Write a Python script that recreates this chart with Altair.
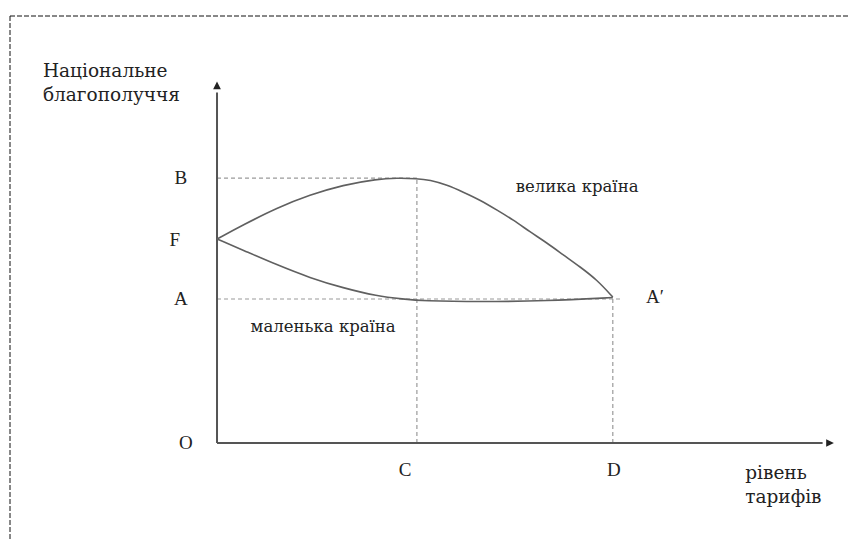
import altair as alt
import pandas as pd

# ---- data (abstract units) ----
big_x = [0, 0.52, 1.21, 1.875, 2.54, 3.23, 3.63, 4.03, 4.29, 4.64, 4.96, 5.31,
         5.65, 5.97, 6.31, 6.65, 6.98, 7.32, 7.66, 7.98]
big_y = [4.25, 4.54, 4.90, 5.17, 5.375, 5.50, 5.52, 5.51, 5.48, 5.375, 5.23, 5.06,
         4.85, 4.65, 4.40, 4.17, 3.92, 3.67, 3.40, 3.04]
small_x = [0, 0.52, 1.21, 1.875, 2.54, 3.23, 3.75, 4.15, 5.31, 6.65, 7.98]
small_y = [4.25, 4.02, 3.71, 3.44, 3.23, 3.06, 3.0, 2.96, 2.94, 2.96, 3.03]

B_LEVEL, F_LEVEL, A_LEVEL = 5.52, 4.25, 3.0
C_POS, D_POS = 4.03, 7.98
Y_AXIS_TOP, X_AXIS_END = 7.45, 12.36

letters = ["B", "F", "A", "O", "C", "D", "A\u2032"]
letter_x = [-0.73, -0.85, -0.73, -0.63, 3.79, 8.0, 8.83]
letter_y = [5.52, 4.23, 3.0, 0.0, -0.56, -0.56, 3.04]

curve_labels = ["велика країна", "маленька країна"]
curve_label_x = [7.26, 2.14]
curve_label_y = [5.33, 2.42]

title_lines = ["Національне", "благополуччя", "рівень", "тарифів"]
title_x = [-3.51, -3.51, 10.65, 10.65]
title_y = [7.76, 7.25, -0.63, -1.13]

X_DOMAIN = [-4.214, 12.722]
Y_DOMAIN = [-2.0, 9.0625]
FONT = "Liberation Serif"
CYR_FONT = "DejaVu Serif"

xs = alt.Scale(domain=X_DOMAIN, nice=False, zero=False)
ys = alt.Scale(domain=Y_DOMAIN, nice=False, zero=False)
X = lambda f: alt.X(f, type="quantitative", scale=xs, axis=None)
Y = lambda f: alt.Y(f, type="quantitative", scale=ys, axis=None)

curves = pd.DataFrame(
    {"x": big_x + small_x, "y": big_y + small_y,
     "s": ["big"] * len(big_x) + ["small"] * len(small_x),
     "o": list(range(len(big_x))) + list(range(len(small_x)))}
)
curve_layer = alt.Chart(curves).mark_line(
    interpolate="basis", color="#606060", strokeWidth=1.6
).encode(x=X("x"), y=Y("y"), detail="s:N", order="o:Q")

guides = pd.DataFrame({
    "x": [0, C_POS, 0, D_POS],
    "x2": [C_POS, C_POS, D_POS + 0.15, D_POS],
    "y": [B_LEVEL, 0, A_LEVEL, 0],
    "y2": [B_LEVEL, B_LEVEL, A_LEVEL, A_LEVEL],
})
guide_layer = alt.Chart(guides).mark_rule(
    color="#9a9a9a", strokeWidth=1.2, strokeDash=[4, 3]
).encode(x=X("x"), x2="x2", y=Y("y"), y2="y2")

axes = pd.DataFrame({"x": [0, 0], "x2": [0, X_AXIS_END - 0.15],
                     "y": [0, 0], "y2": [Y_AXIS_TOP - 0.15, 0]})
axis_layer = alt.Chart(axes).mark_rule(color="#555555", strokeWidth=2).encode(
    x=X("x"), x2="x2", y=Y("y"), y2="y2")

arrow_up = alt.Chart(pd.DataFrame({"x": [0], "y": [Y_AXIS_TOP]})).mark_point(
    shape="M-1,1L0,-1L1,1Z", filled=True, color="#222222", size=60, opacity=1
).encode(x=X("x"), y=Y("y"))
arrow_right = alt.Chart(pd.DataFrame({"x": [X_AXIS_END], "y": [0]})).mark_point(
    shape="M-1,-1L1,0L-1,1Z", filled=True, color="#222222", size=60, opacity=1
).encode(x=X("x"), y=Y("y"))

letter_layer = alt.Chart(pd.DataFrame({"t": letters, "x": letter_x, "y": letter_y})).mark_text(
    font=FONT, fontSize=19, color="#222222", align="center", baseline="middle"
).encode(x=X("x"), y=Y("y"), text="t:N")

curve_label_layer = alt.Chart(pd.DataFrame(
    {"t": curve_labels, "x": curve_label_x, "y": curve_label_y})).mark_text(
    font=CYR_FONT, fontSize=16.5, color="#222222", align="center", baseline="middle"
).encode(x=X("x"), y=Y("y"), text="t:N")

title_layer = alt.Chart(pd.DataFrame({"t": title_lines, "x": title_x, "y": title_y})).mark_text(
    font=CYR_FONT, fontSize=18.5, color="#222222", align="left", baseline="middle"
).encode(x=X("x"), y=Y("y"), text="t:N")

frame = alt.Chart(pd.DataFrame({"k": [1]})).mark_rule(
    color="#111111", strokeWidth=1, strokeDash=[5, 2]
)
frame_top = frame.encode(x=alt.value(2), x2=alt.value(840), y=alt.value(8))
frame_left = frame.encode(x=alt.value(2), y=alt.value(8), y2=alt.value(531))

chart = alt.layer(
    frame_top, frame_left, guide_layer, axis_layer, curve_layer,
    arrow_up, arrow_right, letter_layer, curve_label_layer, title_layer
).properties(
    width=840, height=531, autosize=alt.AutoSizeParams(type="none"),
    padding=0, background="white"
).configure_view(stroke=None)

chart.save("out.html", embed_options={"renderer": "svg", "actions": False})
